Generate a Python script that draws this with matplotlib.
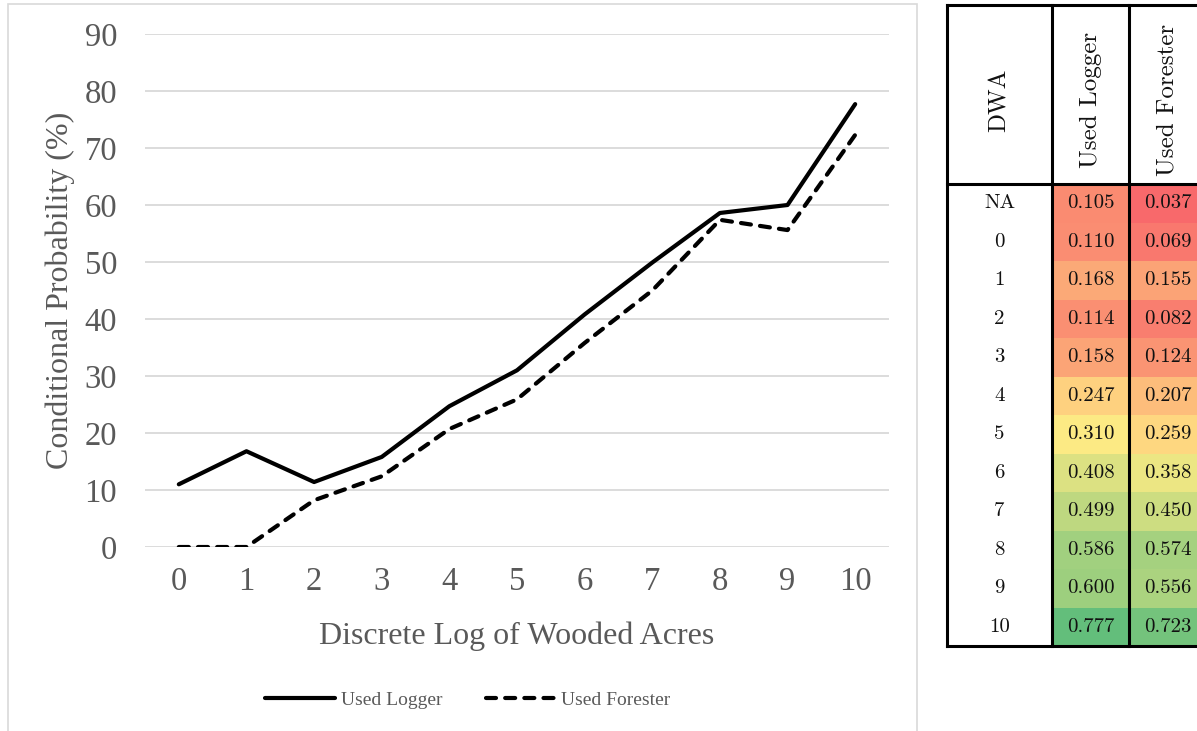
import matplotlib
matplotlib.use("Agg")
import matplotlib.pyplot as plt
from matplotlib.patches import Rectangle
from matplotlib.colors import LinearSegmentedColormap, TwoSlopeNorm
from matplotlib.lines import Line2D

# Discrete log of wooded acres on the x axis
dwa = [0, 1, 2, 3, 4, 5, 6, 7, 8, 9, 10]

# Conditional probability (%) for each line
logger_pct = [11.0, 16.8, 11.4, 15.8, 24.7, 31.0, 40.8, 49.9, 58.6, 60.0, 77.7]
forester_pct = [0.0, 0.0, 8.2, 12.4, 20.7, 25.9, 35.8, 45.0, 57.4, 55.6, 72.3]

# Side table
table_rows = ["NA", "0", "1", "2", "3", "4", "5", "6", "7", "8", "9", "10"]
table_logger = [0.105, 0.110, 0.168, 0.114, 0.158, 0.247, 0.310, 0.408, 0.499, 0.586, 0.600, 0.777]
table_forester = [0.037, 0.069, 0.155, 0.082, 0.124, 0.207, 0.259, 0.358, 0.450, 0.574, 0.556, 0.723]
table_headers = ["DWA", "Used Logger", "Used Forester"]

W, H = 1197, 731
fig = plt.figure(figsize=(W / 100, H / 100), dpi=100)

grey = "#595959"
serif = "Liberation Serif"
dash = (0, (2.4, 2.2))

# light frame around the chart
fig.patches.append(Rectangle((8 / W, -0.05), (917 - 8) / W, 1.05 - 4 / H,
                             transform=fig.transFigure, fill=False,
                             edgecolor="#d9d9d9", linewidth=1.2))

ax = fig.add_axes([145 / W, (H - 547) / H, (889 - 145) / W, (547 - 34) / H])
ax.plot(dwa, logger_pct, color="black", linewidth=3.0, solid_capstyle="round",
        solid_joinstyle="round", label="Used Logger")
ax.plot(dwa, forester_pct, color="black", linewidth=3.0, linestyle=dash,
        dash_capstyle="round", dash_joinstyle="round", label="Used Forester")

ax.set_xlim(-0.5, 10.5)
ax.set_ylim(0, 90)
ax.set_xticks(dwa)
ax.set_yticks(range(0, 100, 10))
ax.grid(axis="y", color="#d9d9d9", linewidth=1.3)
ax.set_axisbelow(True)
for s in ax.spines.values():
    s.set_visible(False)
ax.tick_params(length=0, labelsize=23.5, labelcolor=grey)
ax.tick_params(axis="x", pad=14)
ax.tick_params(axis="y", pad=20)
for lbl in ax.get_xticklabels() + ax.get_yticklabels():
    lbl.set_fontfamily(serif)

ax.set_ylabel("Conditional Probability (%)", fontsize=23, color=grey, fontfamily=serif)
ax.set_xlabel("Discrete Log of Wooded Acres", fontsize=23, color=grey, fontfamily=serif)
ax.yaxis.set_label_coords(-0.094, 0.5)
ax.xaxis.set_label_coords(0.5, -0.145)

handles = [Line2D([], [], color="black", linewidth=3.0, solid_capstyle="round"),
           Line2D([], [], color="black", linewidth=3.0, linestyle=dash,
                  dash_capstyle="round")]
fig.legend(handles, ["Used Logger", "Used Forester"], loc="center",
           bbox_to_anchor=(468 / W, 1 - 700 / H), ncol=2, frameon=False,
           prop={"family": serif, "size": 14}, labelcolor=grey,
           handlelength=3.6, handletextpad=0.3, columnspacing=2.2)

# ---- table on the right ----
col_w = [105, 77, 77]
head_h = 179
row_h = (646 - 184) / len(table_rows)
tot_w = sum(col_w)
tot_h = head_h + row_h * len(table_rows)

tax = fig.add_axes([947 / W, (H - 646) / H, tot_w / W, tot_h / H])
tax.set_xlim(0, tot_w)
tax.set_ylim(tot_h, 0)
tax.axis("off")

cmap = LinearSegmentedColormap.from_list("ryg", ["#F8696B", "#FFEB84", "#63BE7B"])
all_vals = table_logger + table_forester
norm = TwoSlopeNorm(vmin=min(all_vals), vcenter=0.30, vmax=max(all_vals))

xs = [0, col_w[0], col_w[0] + col_w[1]]
tfont = "cmr10"
for i, row in enumerate(table_rows):
    y0 = head_h + i * row_h
    for j, v in enumerate([table_logger[i], table_forester[i]]):
        tax.add_patch(Rectangle((xs[j + 1], y0), col_w[j + 1], row_h,
                                facecolor=cmap(norm(v)), edgecolor="none"))
        tax.text(xs[j + 1] + col_w[j + 1] / 2, y0 + row_h / 2, f"{v:.3f}",
                 ha="center", va="center", fontsize=15, fontfamily=tfont, color="#111111")
    tax.text(col_w[0] / 2, y0 + row_h / 2, row, ha="center", va="center",
             fontsize=15, fontfamily=tfont, color="#111111")

for j, h in enumerate(table_headers):
    tax.text(xs[j] + col_w[j] / 2, 95, h, rotation=90, ha="center", va="center",
             fontsize=18, fontfamily=tfont, color="#111111")

lw = 2.2
tax.plot([0, tot_w], [0, 0], color="black", linewidth=lw, clip_on=False)
tax.plot([0, tot_w], [head_h, head_h], color="black", linewidth=lw, clip_on=False)
tax.plot([0, tot_w], [tot_h, tot_h], color="black", linewidth=lw, clip_on=False)
for x in xs + [tot_w]:
    tax.plot([x, x], [0, tot_h], color="black", linewidth=lw, clip_on=False)

fig.savefig("out.png", dpi=100)
